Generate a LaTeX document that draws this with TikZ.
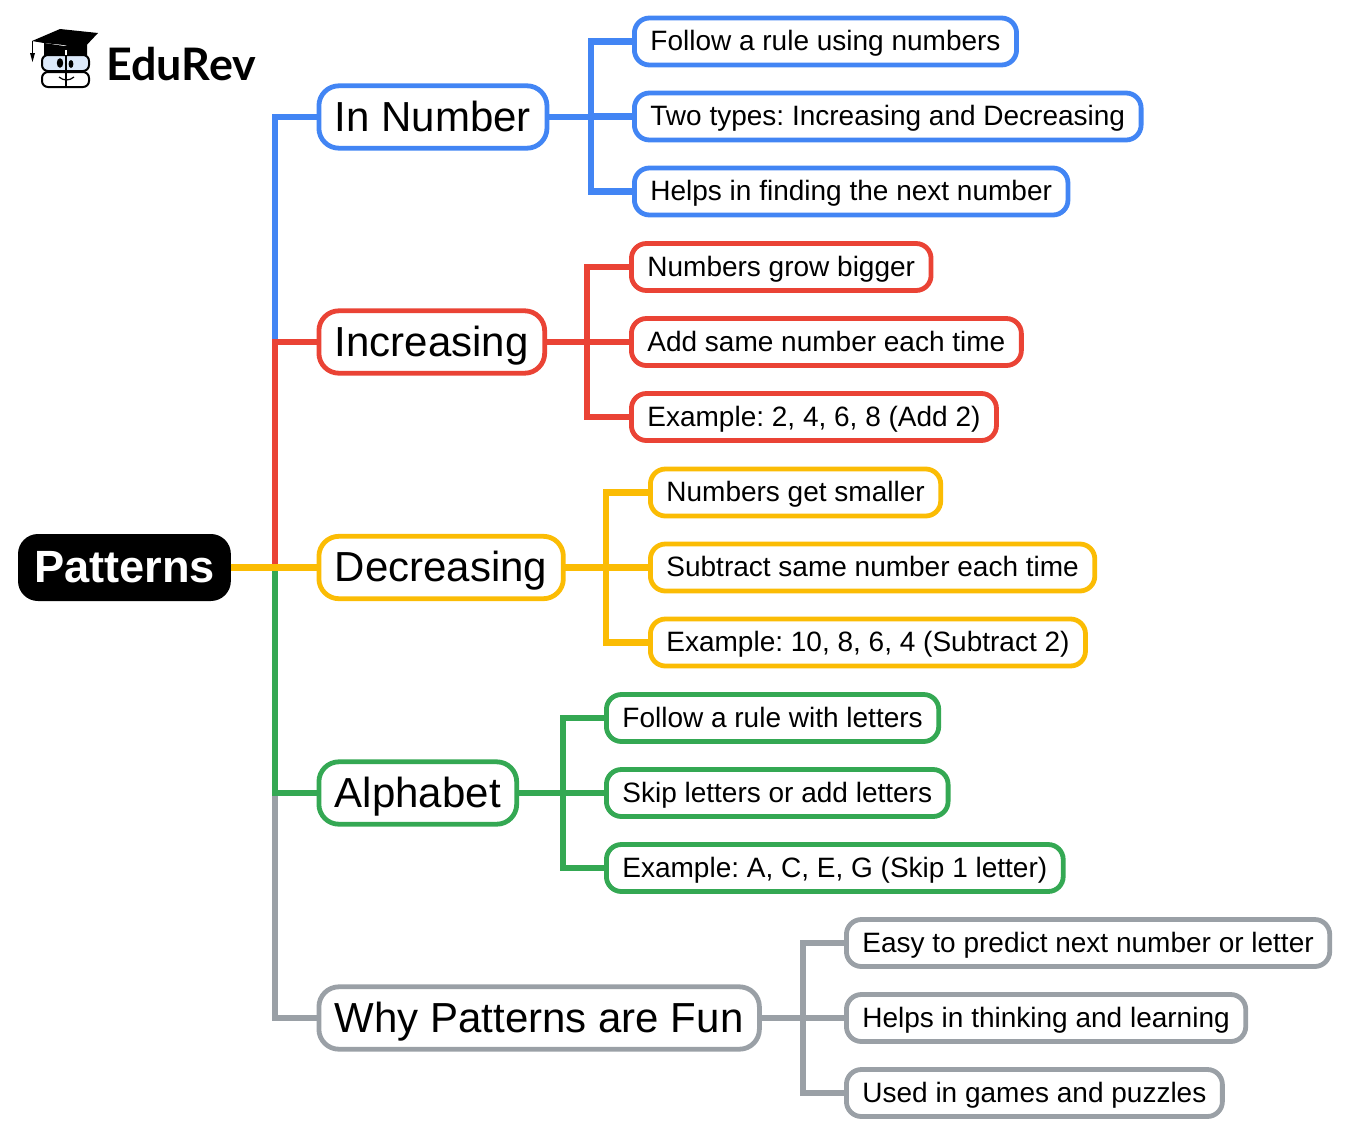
\documentclass[tikz,border=0pt]{standalone}
\usepackage{fontspec}
\setmainfont{Liberation Sans}
\newfontfamily\logofont{Lato}
\definecolor{numblue}{HTML}{4285F4}
\definecolor{incred}{HTML}{EA4335}
\definecolor{decyellow}{HTML}{FBBC04}
\definecolor{alphgreen}{HTML}{34A853}
\definecolor{fungray}{HTML}{9AA0A6}
\definecolor{glass}{HTML}{DCE9FA}
\tikzset{
    rootbox/.style={fill=black, text=white, rounded corners=10pt, minimum height=33.5pt, inner xsep=8pt, anchor=west, outer sep=0pt, text height=16pt, text depth=1pt, font=\fontsize{22.6}{26}\selectfont\bfseries},
    branchbox/.style={draw=#1, fill=white, line width=2.4pt, rounded corners=10pt, minimum height=31.2pt, inner xsep=8pt, anchor=west, outer sep=0pt, text height=15pt, text depth=1pt, font=\fontsize{21}{25}\selectfont},
    leafbox/.style={draw=#1, fill=white, line width=2.4pt, rounded corners=7.5pt, minimum height=23.5pt, inner xsep=8pt, anchor=west, outer sep=0pt, text height=10pt, text depth=1pt, font=\frenchspacing\fontsize{14}{17}\selectfont},
    link/.style={draw=#1, line width=3.4pt}
}
\begin{document}
\begin{tikzpicture}[x=0.5pt, y=-0.5pt]
    \useasboundingbox (0,0) rectangle (1348,1135);

    % logo
    \fill (32,41) -- (60,29) -- (98,33) -- (82,50) -- (64,45) -- (44,43) -- cycle;
    \fill (44,43) -- (64,46) -- (87,44) -- (87,55) -- (44,55) -- cycle;
    \draw[line width=0.5pt] (32,41) -- (32,53);
    \fill (30,53) -- (35,53) -- (32.5,62) -- cycle;
    \draw[line width=1pt, fill=glass, rounded corners=3pt] (42,55) rectangle (89,71);
    \draw[line width=1pt, rounded corners=3pt] (42,72) rectangle (89,87);
    \draw[white, line width=1pt] (66,50) -- (66,55);
    \draw[line width=0.8pt] (66,55) -- (66,88);
    \fill (60,63) ellipse (1.6pt and 2.4pt);
    \fill (71,64) ellipse (1.2pt and 2pt);
    \draw[line width=0.6pt] (59,77) .. controls (64,81) and (69,81) .. (74,77);
    \node[anchor=west, inner sep=0pt, font=\logofont\fontsize{22.4}{26}\selectfont\bfseries] (logotext) at (106,64) {EduRev};

    % main nodes
    \node[rootbox] (patterns) at (18,567.5) {Patterns};
    \node[branchbox=numblue] (innumber) at (318.9,117) {In Number};
    \node[branchbox=incred] (increasing) at (318.9,342) {Increasing};
    \node[branchbox=decyellow] (decreasing) at (318.9,567.5) {Decreasing};
    \node[branchbox=alphgreen] (alphabet) at (318.9,793) {Alphabet};
    \node[branchbox=fungray] (whyfun) at (318.9,1018) {Why Patterns are Fun};

    \coordinate (trunk) at (275,567.5);
    \draw[link=numblue] (patterns.east) -- (trunk) |- (innumber.west);
    \draw[link=incred] (patterns.east) -- (trunk) |- (increasing.west);
    \draw[link=fungray] (patterns.east) -- (trunk) |- (whyfun.west);
    \draw[link=alphgreen] (patterns.east) -- (trunk) |- (alphabet.west);
    \draw[link=decyellow] (patterns.east) -- (decreasing.west);

    % leaves
    \coordinate (busa) at (591,117);
    \foreach \name/\yval/\txt in {a/41.5/{Follow a rule using numbers},b/116.5/{Two types: Increasing and Decreasing},c/191.5/{Helps in finding the next number}} {
            \node[leafbox=numblue] (num\name) at (634.4,\yval) {\txt};
            \draw[link=numblue] (innumber.east) -- (busa) |- (num\name.west);
        }

    \coordinate (busb) at (587,342);
    \foreach \name/\yval/\txt in {a/267/{Numbers grow bigger},b/342/{Add same number each time},c/417/{Example: 2, 4, 6, 8 (Add 2)}} {
            \node[leafbox=incred] (inc\name) at (631.4,\yval) {\txt};
            \draw[link=incred] (increasing.east) -- (busb) |- (inc\name.west);
        }

    \coordinate (busc) at (606,567.5);
    \foreach \name/\yval/\txt in {a/492.5/{Numbers get smaller},b/567.5/{Subtract same number each time},c/642.5/{Example: 10, 8, 6, 4 (Subtract 2)}} {
            \node[leafbox=decyellow] (dec\name) at (650.4,\yval) {\txt};
            \draw[link=decyellow] (decreasing.east) -- (busc) |- (dec\name.west);
        }

    \coordinate (busd) at (563,793);
    \foreach \name/\yval/\txt in {a/718/{Follow a rule with letters},b/793/{Skip letters or add letters},c/868/{Example: A, C, E, G (Skip 1 letter)}} {
            \node[leafbox=alphgreen] (alph\name) at (606.4,\yval) {\txt};
            \draw[link=alphgreen] (alphabet.east) -- (busd) |- (alph\name.west);
        }

    \coordinate (buse) at (803,1018);
    \foreach \name/\yval/\txt in {a/943/{Easy to predict next number or letter},b/1018/{Helps in thinking and learning},c/1093/{Used in games and puzzles}} {
            \node[leafbox=fungray] (fun\name) at (846.4,\yval) {\txt};
            \draw[link=fungray] (whyfun.east) -- (buse) |- (fun\name.west);
        }
\end{tikzpicture}
\end{document}
